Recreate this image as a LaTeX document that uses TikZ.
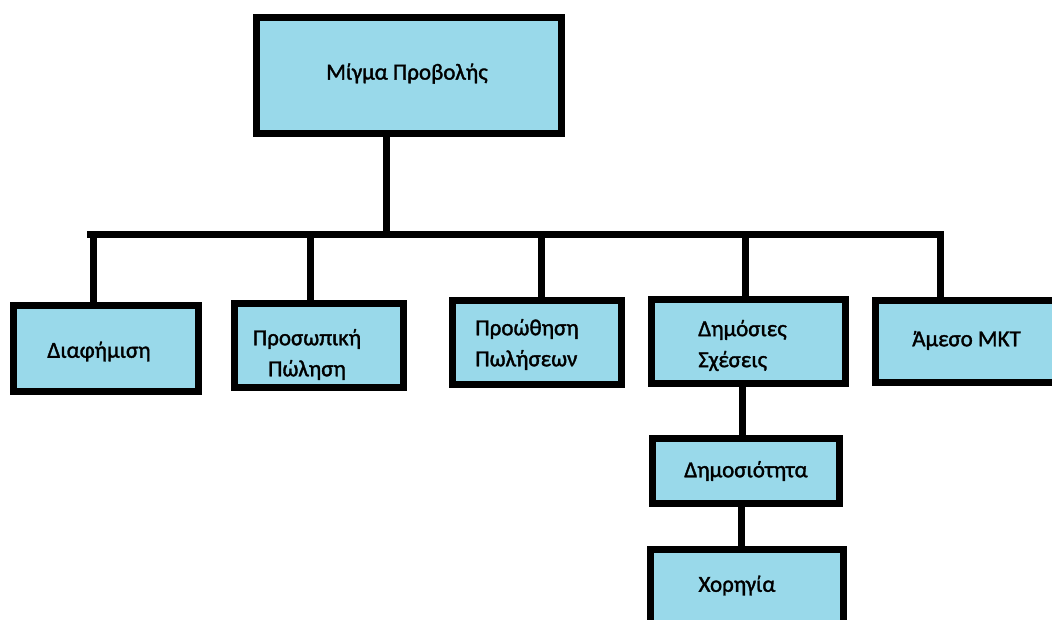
\documentclass[tikz,border=0pt]{standalone}
\usepackage{fontspec}
\setmainfont{Carlito}[FakeBold=1.5]
\usepackage{xcolor}
\usetikzlibrary{positioning, calc}
\definecolor{boxcol}{RGB}{153,217,234}

\begin{document}
\begin{tikzpicture}[
    x=1pt, y=-1pt,
    box/.style={
        draw=black, fill=boxcol, line width=7pt, inner sep=0pt
    },
    txt/.style={
        align=center, inner sep=0pt, font=\fontsize{23}{31}\selectfont
    },
    wire/.style={
        draw=black, line width=7pt
    },
]

\useasboundingbox (0,0) rectangle (1052,619);
\clip (0,0) rectangle (1052,619);

% ── Nodes ──
\node[box, minimum width=305pt, minimum height=116pt,
      label={[txt, xshift=-2pt, yshift=2pt]center:Μίγμα Προβολής}] (mix) at (409,75.5) {};

\node[box, minimum width=185pt, minimum height=86pt,
      label={[txt, xshift=-7pt, yshift=-3pt]center:Διαφήμιση}] (adv) at (106,348.5) {};
\node[box, minimum width=169pt, minimum height=84pt,
      label={[txt, xshift=-12pt, yshift=-9pt]center:{Προσωπική\\Πώληση}}] (sell) at (319,345.5) {};
\node[box, minimum width=169pt, minimum height=84pt,
      label={[txt, align=left, xshift=-10pt, yshift=-2pt]center:{Προώθηση\\Πωλήσεων}}] (promo) at (537,342.5) {};
\node[box, minimum width=194pt, minimum height=84pt,
      label={[txt, align=left, xshift=-6pt, yshift=-4pt]center:{Δημόσιες\\Σχέσεις}}] (pr) at (748.5,341.5) {};
\node[box, minimum width=190pt, minimum height=82pt,
      label={[txt, xshift=-4pt, yshift=1pt]center:Άμεσο ΜΚΤ}] (direct) at (970.5,341.5) {};

\node[box, minimum width=187pt, minimum height=65pt,
      label={[txt]center:Δημοσιότητα}] (pub) at (746,471) {};
\node[box, minimum width=193pt, minimum height=92pt,
      label={[txt, xshift=-10pt, yshift=10pt]center:Χορηγία}] (spons) at (747,595.5) {};

% ── Bus line ──
\coordinate (busL) at (87,234);
\coordinate (busR) at (944,234);
\coordinate (j0) at (386.5,234);
\coordinate (j1) at (93.5,234);
\coordinate (j2) at (310.5,234);
\coordinate (j3) at (541,234);
\coordinate (j4) at (745.5,234);
\coordinate (j5) at (940,234);

\draw[wire] (mix.south -| j0) -- (j0);
\draw[wire] (busL) -- (busR);

% ── Drops to the five tools ──
\draw[wire] (j1) -- (j1 |- adv.north);
\draw[wire] (j2) -- (j2 |- sell.north);
\draw[wire] (j3) -- (j3 |- promo.north);
\draw[wire] (j4) -- (j4 |- pr.north);
\draw[wire] (j5) -- (j5 |- direct.north);

% ── Public relations branch ──
\coordinate (k1) at (742,0);
\coordinate (k2) at (741,0);
\draw[wire] (pr.south -| k1) -- (pub.north -| k1);
\draw[wire] (pub.south -| k2) -- (spons.north -| k2);

\end{tikzpicture}
\end{document}
